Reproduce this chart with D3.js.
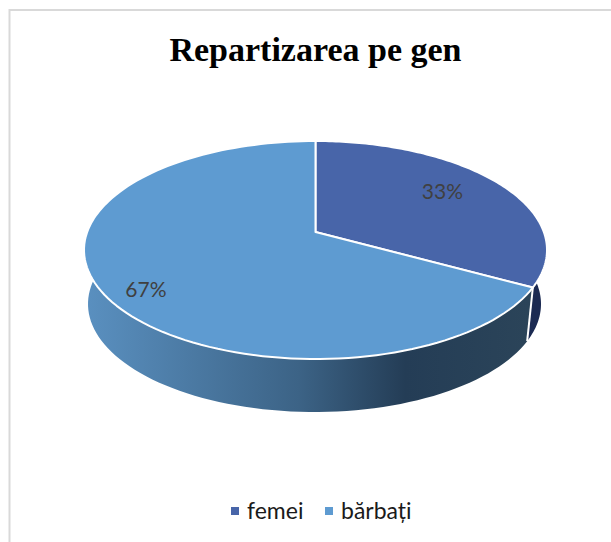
<!DOCTYPE html>
<meta charset="utf-8">
<style type="text/css">
    html, body { margin: 0; padding: 0; background: #fff; }
    svg { display: block; }
</style>
<body>
</body>
<script type="text/javascript" src="https://d3js.org/d3.v7.min.js"></script>
<script>
    // chart data
    var categories = ["femei", "bărbați"];
    var values = [33, 67];
    var labels = ["33%", "67%"];
    var colors = ["#4865a9", "#5e9bd1"];
    var sideColors = ["#1b2a52", "url(#sideShade)"];

    var width = 611, height = 542;

    var svg = d3.select("body").append("svg")
        .attr("width", width)
        .attr("height", height);

    // frame, open on the right and at the bottom like the cropped original
    svg.append("path")
        .attr("d", "M9.5,543V10H612")
        .attr("fill", "none")
        .attr("stroke", "#d9d9d9")
        .attr("stroke-width", 2);

    svg.append("text")
        .attr("x", 315.5)
        .attr("y", 61)
        .attr("text-anchor", "middle")
        .attr("font-family", "Liberation Serif")
        .attr("font-weight", "bold")
        .attr("font-size", "34px")
        .attr("fill", "#000")
        .text("Repartizarea pe gen");

    // side gradient of the big slice, runs left to right
    var grad = svg.append("defs").append("linearGradient")
        .attr("id", "sideShade")
        .attr("gradientUnits", "userSpaceOnUse")
        .attr("x1", 85).attr("x2", 530)
        .attr("y1", 0).attr("y2", 0);
    grad.append("stop").attr("offset", "0").attr("stop-color", "#5a90c0");
    grad.append("stop").attr("offset", "0.48").attr("stop-color", "#3c6386");
    grad.append("stop").attr("offset", "0.72").attr("stop-color", "#243d56");
    grad.append("stop").attr("offset", "1").attr("stop-color", "#2b4459");

    // unit disc -> screen, top face and (narrower, lower) bottom rim
    var topX = d3.scaleLinear().domain([-1, 1]).range([84, 547]);
    var topY = d3.scaleLinear().domain([-1, 1]).range([141, 359]);
    var botX = d3.scaleLinear().domain([-1, 1]).range([88, 541]);
    var botY = d3.scaleLinear().domain([-1, 1]).range([196, 412]);

    // tilt: the centre of the disc sits above the centre of the ellipse
    var tilt = -0.165;
    function project(a, r) {
        var u = r * Math.sin(a), v = -r * Math.cos(a);
        var d = 1 + tilt * v;
        return [u * Math.sqrt(1 - tilt * tilt) / d, (v + tilt) / d];
    }
    function topPoint(a, r) {
        var p = project(a, r);
        return [topX(p[0]), topY(p[1])];
    }
    function botPoint(a) {
        var p = project(a, 1);
        return [botX(p[0]), botY(p[1])];
    }
    function arcAngles(a0, a1) {
        return d3.range(0, 121).map(function (i) {
            return a0 + (a1 - a0) * i / 120;
        });
    }

    var line = d3.line();
    var slices = d3.pie().sort(null)(values);

    // sides first, the top face covers whatever is behind it
    svg.selectAll(".side")
        .data(slices)
        .enter().append("path")
        .attr("class", "side")
        .attr("fill", function (d, i) { return sideColors[i]; })
        .attr("d", function (d) {
            var a = arcAngles(d.startAngle, d.endAngle);
            return line(a.map(function (t) { return topPoint(t, 1); })
                .concat(a.slice().reverse().map(botPoint))) + "Z";
        });

    // white seam between the two sides
    svg.append("path")
        .attr("fill", "none")
        .attr("stroke", "#fff")
        .attr("stroke-width", 2)
        .attr("d", line([topPoint(slices[1].startAngle, 1), botPoint(slices[1].startAngle)]));

    svg.selectAll(".face")
        .data(slices)
        .enter().append("path")
        .attr("class", "face")
        .attr("fill", function (d, i) { return colors[i]; })
        .attr("stroke", "#fff")
        .attr("stroke-width", 2)
        .attr("stroke-linejoin", "round")
        .attr("d", function (d) {
            var pts = arcAngles(d.startAngle, d.endAngle).map(function (t) { return topPoint(t, 1); });
            pts.unshift(topPoint(0, 0));
            return line(pts) + "Z";
        });

    svg.selectAll(".label")
        .data(slices)
        .enter().append("text")
        .attr("class", "label")
        .attr("font-family", "Lato")
        .attr("font-size", "21px")
        .attr("fill", "#404040")
        .attr("text-anchor", "middle")
        .attr("transform", function (d, i) {
            var p = topPoint((d.startAngle + d.endAngle) / 2, i === 0 ? 0.7 : 0.8);
            return "translate(" + (p[0] + (i === 0 ? -3 : -1)) + "," + (p[1] + (i === 0 ? 3 : 19)) + ")";
        })
        .text(function (d, i) { return labels[i]; });

    // legend
    var legendX = d3.scaleOrdinal().domain(categories).range([231, 325]);
    var legend = svg.selectAll(".legend")
        .data(categories)
        .enter().append("g")
        .attr("class", "legend")
        .attr("transform", function (d) { return "translate(" + legendX(d) + ",507)"; });
    legend.append("rect")
        .attr("width", 8)
        .attr("height", 8)
        .attr("fill", function (d, i) { return colors[i]; });
    legend.append("text")
        .attr("x", 16)
        .attr("y", 12)
        .attr("font-family", "Lato")
        .attr("font-size", "23px")
        .attr("fill", "#1a1a1a")
        .text(function (d) { return d; });
</script>
